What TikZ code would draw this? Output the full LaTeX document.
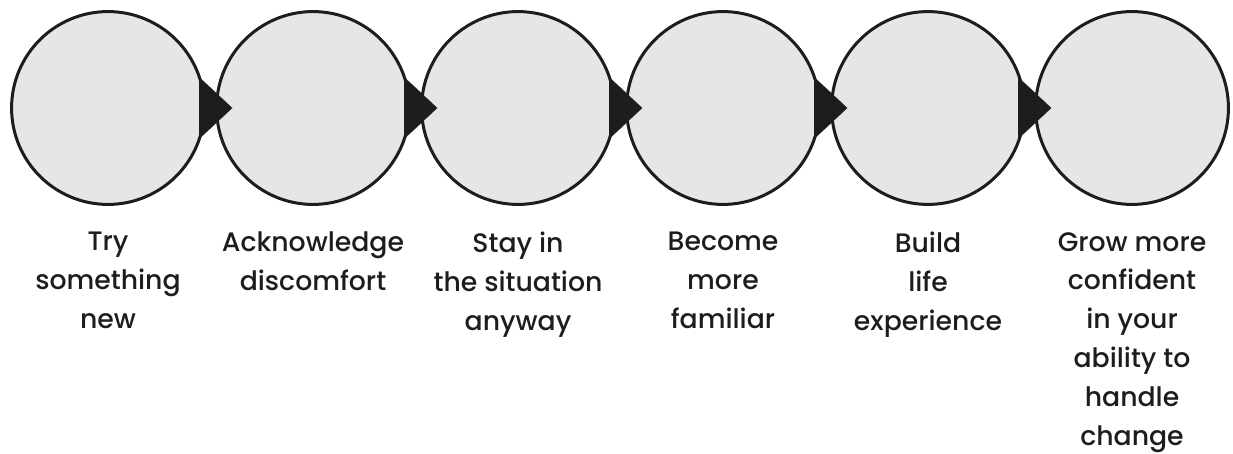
\documentclass[tikz,border=0pt]{standalone}
\usepackage{fontspec}
\setmainfont{Poppins}[UprightFont=* Medium]
\usetikzlibrary{arrows.meta,positioning}
\definecolor{ringfill}{HTML}{E6E6E6}
\definecolor{inkdark}{HTML}{1D1D1B}
\begin{document}
\begin{tikzpicture}[x=0.025cm, y=-0.025cm,
      step circle/.style={circle, draw=inkdark, line width=0.075cm, fill=ringfill, minimum size=4.82cm, inner sep=0pt},
      caption/.style={align=center, inner sep=0pt, text=inkdark, font=\fontsize{19}{27.7}\selectfont},
      arrow/.style={-{Triangle[length=0.83cm,width=1.55cm]}, line width=0.1pt, inkdark, shorten >=-0.43cm}
  ]
  \useasboundingbox (0,0) rectangle (1233,453);

  % Nodes
  \node[step circle] (try) at (108,108) {};
  \node[step circle] (ack) at (313,108) {};
  \node[step circle] (stay) at (518,108) {};
  \node[step circle] (fam) at (723,108) {};
  \node[step circle] (life) at (928,108) {};
  \node[step circle] (grow) at (1132,108) {};

  % Labels
  \node[caption, below=0.65cm of try] (try-text) {Try\\something\\new};
  \node[caption, below=0.65cm of ack] (ack-text) {Acknowledge\\discomfort};
  \node[caption, below=0.65cm of stay] (stay-text) {Stay in\\the situation\\anyway};
  \node[caption, below=0.65cm of fam] (fam-text) {Become\\more\\familiar};
  \node[caption, below=0.65cm of life] (life-text) {Build\\life\\experience};
  \node[caption, below=0.65cm of grow] (grow-text) {Grow more\\confident\\in your\\ability to\\handle\\change};

  % Arrows
  \draw[arrow] (try) -- (ack);
  \draw[arrow] (ack) -- (stay);
  \draw[arrow] (stay) -- (fam);
  \draw[arrow] (fam) -- (life);
  \draw[arrow] (life) -- (grow);

\end{tikzpicture}
\end{document}
